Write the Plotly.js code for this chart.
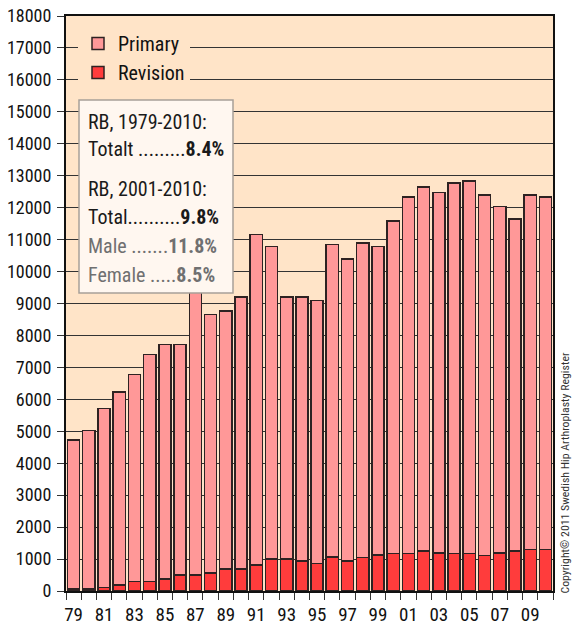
<!DOCTYPE html>
<html>
<head>
<meta charset="utf-8">
<script src="https://cdn.plot.ly/plotly-3.0.1.min.js"></script>
<style>html,body{margin:0;padding:0;background:#fff;}#chart{width:577px;height:629px;}</style>
</head>
<body>
<div id="chart"></div>
<script>
const years = [1979,1980,1981,1982,1983,1984,1985,1986,1987,1988,1989,1990,1991,1992,1993,1994,1995,1996,1997,1998,1999,2000,2001,2002,2003,2004,2005,2006,2007,2008,2009,2010];
const primary = [4660,4960,5605,6040,6480,7110,7340,7215,9205,8100,8085,8525,10350,9780,8210,8270,8225,9780,9460,9850,9655,10410,11160,11400,11280,11600,11660,11285,10840,10400,11095,11035];
const revision = [70,70,115,190,300,300,370,495,495,560,685,685,810,1000,1000,940,865,1060,940,1050,1125,1180,1180,1250,1190,1180,1180,1115,1190,1250,1305,1305];
const tickYears = [1979,1981,1983,1985,1987,1989,1991,1993,1995,1997,1999,2001,2003,2005,2007,2009];
const tickLabels = ["79","81","83","85","87","89","91","93","95","97","99","01","03","05","07","09"];
const yTicks = [0,1000,2000,3000,4000,5000,6000,7000,8000,9000,10000,11000,12000,13000,14000,15000,16000,17000,18000];

const FONT = '"Roboto Condensed", "Open Sans", sans-serif';
const BG = '#FFE4C8';

const traces = [
  {type:'bar', name:'Revision', x:years, y:revision,
   marker:{color:'#FF3C3C', line:{color:'#2e2222', width:1.5}}},
  {type:'bar', name:'Primary', x:years, y:primary,
   marker:{color:'#FF9898', line:{color:'#2e2222', width:1.5}}}
];

const L=66, R=553, T=16, B=591;
const px = v => (v-L)/(R-L);
const py = v => (B-v)/(B-T);

const lines = [
  {t:'RB, 1979-2010:', y:122, c:'#1a1a1a'},
  {t:'Totalt .........<b>8.4%</b>', y:149, c:'#1a1a1a'},
  {t:'RB, 2001-2010:', y:189, c:'#1a1a1a'},
  {t:'Total..........<b>9.8%</b>', y:217, c:'#1a1a1a'},
  {t:'Male .......<b>11.8%</b>', y:246, c:'#707070'},
  {t:'Female .....<b>8.5%</b>', y:275, c:'#707070'}
];

const annotations = lines.map(l => ({
  xref:'paper', yref:'paper', x:px(86), y:py(l.y), xanchor:'left', yanchor:'middle',
  text:l.t, showarrow:false, font:{family:FONT, size:20, color:l.c}
}));
annotations.push({
  xref:'paper', yref:'paper', x:px(564), y:py(596), xanchor:'center', yanchor:'bottom',
  text:'Copyright© 2011 Swedish Hip Arthroplasty Register', textangle:-90, showarrow:false,
  font:{family:FONT, size:11.8, color:'#333'}
});

const layout = {
  width:577, height:629,
  margin:{l:L, r:577-R, t:T, b:629-B},
  paper_bgcolor:'#fff', plot_bgcolor:BG,
  barmode:'stack', bargap:0.2,
  showlegend:true,
  legend:{x:px(78), y:py(24), xanchor:'left', yanchor:'top', bgcolor:BG, traceorder:'reversed',
          font:{family:FONT, size:20, color:'#111'}, tracegroupgap:0},
  xaxis:{range:[1978.5,2010.5], tickvals:tickYears, ticktext:tickLabels, ticks:'', showgrid:false,
         showline:true, linecolor:'#111', linewidth:2, mirror:true, zeroline:false,
         tickfont:{family:FONT, size:19, color:'#111'}, ticklabelstandoff:5,
         minor:{tick0:1978.5, dtick:1, ticks:'outside', ticklen:7, tickcolor:'#333', tickwidth:1, showgrid:false}},
  yaxis:{range:[0,18000], tickvals:yTicks, tickformat:'d', ticks:'outside', ticklen:7, tickcolor:'#333',
         showgrid:true, gridcolor:'#333', gridwidth:1, zeroline:false,
         showline:true, linecolor:'#111', linewidth:2, mirror:true, ticklabelstandoff:2,
         tickfont:{family:FONT, size:18, color:'#111'}},
  shapes:[{type:'rect', xref:'paper', yref:'paper', x0:px(79), x1:px(233), y0:py(293), y1:py(100),
           fillcolor:'#FFF7F0', line:{color:'#A8A098', width:1.5}, layer:'above'}],
  annotations:annotations
};

Plotly.newPlot('chart', traces, layout, {displayModeBar:false, staticPlot:true});
</script>
</body>
</html>
